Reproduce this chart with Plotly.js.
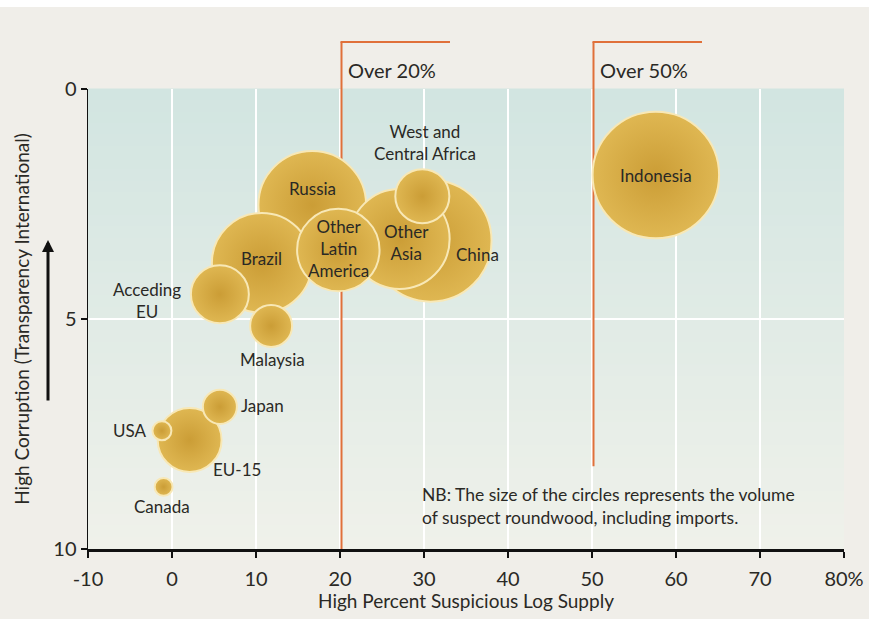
<!DOCTYPE html>
<html>
<head>
<meta charset="utf-8">
<script src="https://cdn.plot.ly/plotly-3.0.1.min.js"></script>
<style>
  html, body { margin: 0; padding: 0; background: #f0eee9; }
  #chart { width: 869px; height: 619px; }
</style>
</head>
<body>
<div id="chart"></div>
<script>
// ---- data ----
// drawing order matters: later points are drawn on top
const regions = ["China", "Russia", "Brazil", "Other Asia", "West and Central Africa",
                 "Other Latin America", "Acceding EU", "Malaysia", "Indonesia",
                 "EU-15", "Japan", "USA", "Canada"];
const suspiciousPct = [30.8, 16.7, 10.7, 27.1, 29.8, 19.8, 5.7, 11.8, 57.6, 2.1, 5.7, -1.2, -1.0];
const corruptionIdx = [3.30, 2.52, 3.78, 3.26, 2.33, 3.50, 4.46, 5.15, 1.87, 7.63, 6.91, 7.43, 8.65];
const suspectVolume = [37, 29, 25, 25, 7.3, 17, 8.4, 4.4, 40, 10.2, 2.9, 0.9, 0.8];
const labelText = ["China", "Russia", "Brazil", "Other<br>Asia", "West and<br>Central Africa",
                   "Other<br>Latin<br>America", "Acceding<br>EU", "Malaysia", "Indonesia",
                   "EU-15", "Japan", "USA", "Canada"];

const thresholds = [20, 50];
const thresholdLabels = ["Over 20%", "Over 50%"];
const thresholdLineEnds = [10, 8.2];

const xTickVals = [-10, 0, 10, 20, 30, 40, 50, 60, 70, 80];
const xTickText = ["-10", "0", "10", "20", "30", "40", "50", "60", "70", "80%"];
const yTickVals = [0, 5, 10];
const yTickText = ["0", "5", "10"];

const xTitle = "High Percent Suspicious Log Supply";
const yTitle = "High Corruption (Transparency International)";
const noteText = "NB: The size of the circles represents the volume<br>of suspect roundwood, including imports.";

// ---- styling (pixel offsets of labels from their bubble) ----
const labelShift = {
  "China": [47, 14], "Russia": [0, -16], "Brazil": [0, -4], "Other Asia": [7, 4],
  "West and Central Africa": [3, -54], "Other Latin America": [0, -2],
  "Acceding EU": [-73, 6], "Malaysia": [1, 34], "Indonesia": [0, 0],
  "EU-15": [47, 30], "Japan": [43, -1], "USA": [-32, 0], "Canada": [-2, 20]
};

const FONT = "Lato, Roboto, sans-serif";
const TXT = "#2a2925";
const ORANGE = "#e0703a";

const traces = [{
  type: "scatter",
  mode: "markers",
  x: suspiciousPct,
  y: corruptionIdx,
  text: regions,
  hoverinfo: "text",
  marker: {
    size: suspectVolume,
    sizemode: "area",
    sizeref: 0.005,
    color: "#dfb752",
    gradient: { type: "radial", color: "#cb9d36" },
    line: { color: "#f8e8b6", width: 2 },
    opacity: 1
  },
  showlegend: false
}];

// plot-area background gradient (teal at top, pale at bottom)
const shapes = [];
const bands = 40;
const cTop = [210, 229, 225], cBot = [239, 241, 234];
for (let i = 0; i < bands; i++) {
  const f = i / (bands - 1);
  const c = cTop.map((v, k) => Math.round(v + (cBot[k] - v) * f));
  shapes.push({
    type: "rect", xref: "paper", yref: "paper",
    x0: 0, x1: 1, y0: 1 - (i + 1) / bands, y1: 1 - i / bands + 0.001,
    fillcolor: `rgb(${c[0]},${c[1]},${c[2]})`, line: { width: 0 }, layer: "below"
  });
}
// white strip along the very top of the picture
shapes.push({
  type: "rect", xref: "paper", yref: "paper",
  x0: -0.2, x1: 1.2, y0: 1.178, y1: 1.25,
  fillcolor: "#ffffff", line: { width: 0 }, layer: "below"
});

// threshold brackets
const annotations = [];
thresholds.forEach((t, i) => {
  shapes.push({
    type: "line", xref: "x", yref: "y", xsizemode: "pixel", xanchor: t,
    x0: 1.5, x1: 1.5, y0: thresholdLineEnds[i], y1: 0,
    line: { color: ORANGE, width: 2 }, layer: "between"
  });
  shapes.push({
    type: "line", xref: "x", yref: "paper", xsizemode: "pixel", xanchor: t,
    x0: 1.5, x1: 1.5, y0: 1, y1: 1.102,
    line: { color: ORANGE, width: 2 }, layer: "below"
  });
  shapes.push({
    type: "line", xref: "x", yref: "paper", xsizemode: "pixel", xanchor: t,
    x0: 0.5, x1: 110, y0: 1.102, y1: 1.102,
    line: { color: ORANGE, width: 2 }, layer: "below"
  });
  annotations.push({
    xref: "x", yref: "paper", x: t, y: 1.041, xshift: 6,
    xanchor: "left", yanchor: "middle", showarrow: false,
    text: thresholdLabels[i], font: { family: FONT, size: 20, color: TXT }
  });
});

// bubble labels
regions.forEach((r, i) => {
  const s = labelShift[r] || [0, 0];
  annotations.push({
    xref: "x", yref: "y", x: suspiciousPct[i], y: corruptionIdx[i],
    xshift: s[0], yshift: -s[1], showarrow: false,
    xanchor: "center", yanchor: "middle", align: "center",
    text: labelText[i], font: { family: FONT, size: 17, color: TXT }
  });
});

// note
annotations.push({
  xref: "paper", yref: "paper", x: 0.439, y: 0.0935,
  xanchor: "left", yanchor: "middle", align: "left", showarrow: false,
  text: noteText, font: { family: FONT, size: 17.5, color: TXT }
});

// upward arrow next to y title
annotations.push({
  xref: "paper", yref: "paper", x: -0.0529, y: 0.672,
  ax: 0, ay: 162, axref: "pixel", ayref: "pixel",
  text: "", showarrow: true, arrowhead: 2, arrowsize: 0.8, arrowwidth: 3,
  arrowcolor: "#111"
});

const layout = {
  width: 869, height: 619,
  paper_bgcolor: "#f0eee9",
  plot_bgcolor: "rgba(0,0,0,0)",
  margin: { l: 88, r: 25, t: 89, b: 70 },
  font: { family: FONT, color: TXT },
  xaxis: {
    range: [-10, 80], tickvals: xTickVals, ticktext: xTickText,
    ticks: "outside", ticklen: 6, tickwidth: 1.5, tickcolor: "#111",
    showline: true, linecolor: "#111", linewidth: 2.5,
    showgrid: true, gridcolor: "#ffffff", gridwidth: 1.5, zeroline: false,
    tickfont: { family: FONT, size: 20, color: TXT },
    ticklabelstandoff: 4,
    title: { text: xTitle, font: { family: FONT, size: 19, color: TXT }, standoff: 4 },
    automargin: false, fixedrange: true
  },
  yaxis: {
    range: [10, 0], tickvals: yTickVals, ticktext: yTickText,
    ticks: "outside", ticklen: 6, tickwidth: 1.5, tickcolor: "#111",
    showline: true, linecolor: "#111", linewidth: 1.5,
    showgrid: true, gridcolor: "#ffffff", gridwidth: 1.5, zeroline: false,
    tickfont: { family: FONT, size: 20, color: TXT },
    title: { text: yTitle, font: { family: FONT, size: 19, color: TXT }, standoff: 18 },
    automargin: false, fixedrange: true
  },
  shapes: shapes,
  annotations: annotations,
  showlegend: false,
  hovermode: "closest"
};

Plotly.newPlot("chart", traces, layout, { displayModeBar: false, staticPlot: true });
</script>
</body>
</html>
